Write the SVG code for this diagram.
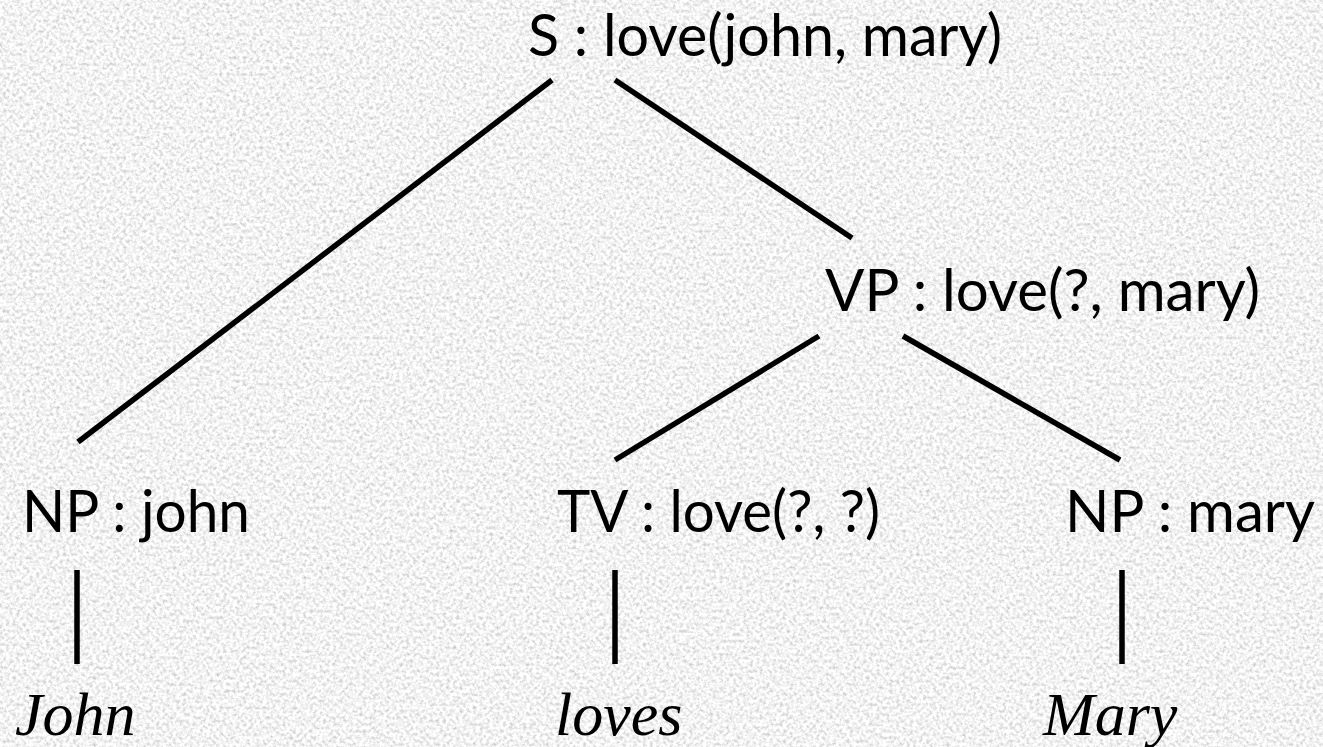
<svg xmlns="http://www.w3.org/2000/svg" width="1323" height="747" viewBox="0 0 1323 747">
  <defs>
    <filter id="granite" x="0" y="0" width="100%" height="100%">
      <feTurbulence type="fractalNoise" baseFrequency="0.3" numOctaves="3" seed="7" result="noise"/>
      <feColorMatrix in="noise" type="matrix" values="0.85 0 0 0 0.47  0.85 0 0 0 0.47  0.85 0 0 0 0.47  0 0 0 0 1"/>
    </filter>
    <style>
      .lbl { font-family: "Lato", "Open Sans", "Liberation Sans", sans-serif; font-size: 58px; fill: #000; }
      .word { font-family: "Liberation Serif", "Times New Roman", serif; font-style: italic; font-size: 62px; fill: #000; }
      .edge { stroke: #000; stroke-width: 5.5; stroke-linecap: butt; fill: none; }
    </style>
  </defs>

  <!-- textured backdrop -->
  <rect width="1323" height="747" fill="#e4e4e4"/>
  <rect width="1323" height="747" filter="url(#granite)"/>

  <!-- tree branches -->
  <g id="connectors">
    <line class="edge" x1="552" y1="80" x2="78" y2="442"/>
    <line class="edge" x1="615" y1="80" x2="852" y2="238"/>
    <line class="edge" x1="819" y1="336" x2="615" y2="460"/>
    <line class="edge" x1="903" y1="336" x2="1120" y2="460"/>
    <line class="edge" x1="77" y1="570" x2="77" y2="664"/>
    <line class="edge" x1="615" y1="570" x2="615" y2="664"/>
    <line class="edge" x1="1122" y1="570" x2="1122" y2="664"/>
  </g>

  <g id="node-s">
    <text class="lbl" x="528" y="56" textLength="474" lengthAdjust="spacingAndGlyphs">S : love(john, mary)</text>
  </g>
  <g id="node-vp">
    <text class="lbl" x="825" y="311" textLength="435" lengthAdjust="spacingAndGlyphs">VP : love(?, mary)</text>
  </g>
  <g id="node-np-john">
    <text class="lbl" x="22" y="532" textLength="228" lengthAdjust="spacingAndGlyphs">NP : john</text>
  </g>
  <g id="node-tv">
    <text class="lbl" x="557" y="532" textLength="323" lengthAdjust="spacingAndGlyphs">TV : love(?, ?)</text>
  </g>
  <g id="node-np-mary">
    <text class="lbl" x="1065" y="532" textLength="250" lengthAdjust="spacingAndGlyphs">NP : mary</text>
  </g>

  <g id="word-john">
    <text class="word" x="15" y="735">John</text>
  </g>
  <g id="word-loves">
    <text class="word" x="555" y="735">loves</text>
  </g>
  <g id="word-mary">
    <text class="word" x="1043" y="735">Mary</text>
  </g>
</svg>
